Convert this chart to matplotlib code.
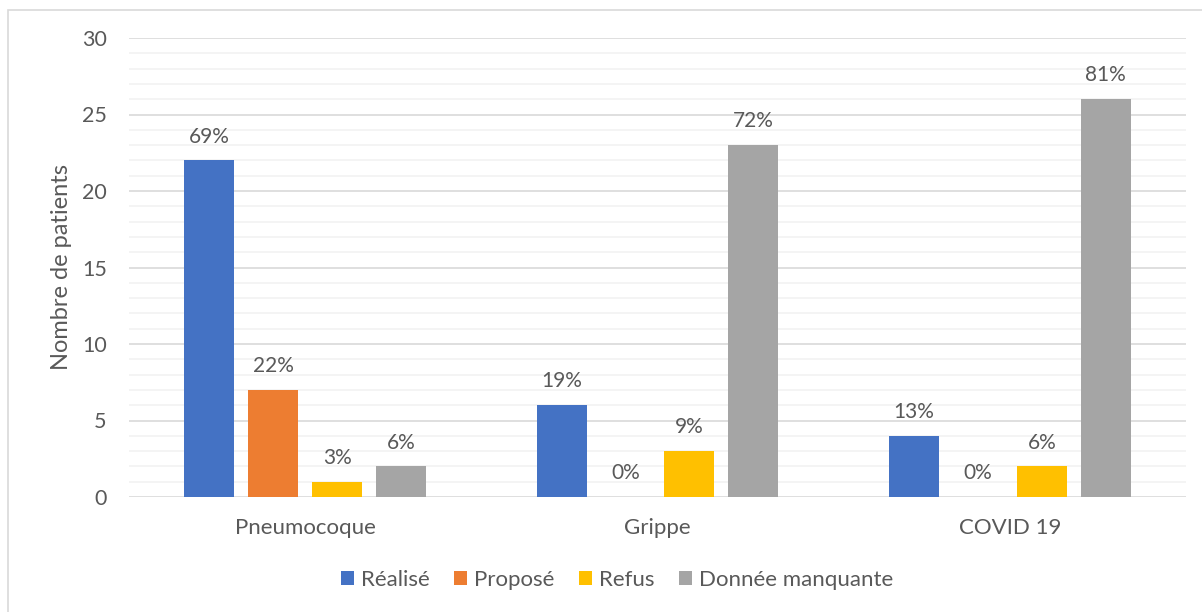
import matplotlib.pyplot as plt
import numpy as np
from matplotlib.patches import Rectangle

categories = ['Pneumocoque', 'Grippe', 'COVID 19']
series = ['Réalisé', 'Proposé', 'Refus', 'Donnée manquante']
values = [
    [22, 6, 4],    # Réalisé
    [7, 0, 0],     # Proposé
    [1, 3, 2],     # Refus
    [2, 23, 26],   # Donnée manquante
]
pct_labels = [
    ['69%', '19%', '13%'],
    ['22%', '0%', '0%'],
    ['3%', '9%', '6%'],
    ['6%', '72%', '81%'],
]
colors = ['#4472C4', '#ED7D31', '#FFC000', '#A5A5A5']

plt.rcParams['font.family'] = ['Lato', 'DejaVu Sans']
txt = '#595959'

fig = plt.figure(figsize=(12.02, 6.12), dpi=100)
ax = fig.add_axes([129 / 1202, 1 - 497 / 612, (1186 - 129) / 1202, (497 - 38) / 612])

# chart border
fig.patches.append(Rectangle((8 / 1202, -0.05), 1.1, 0.05 + (612 - 10) / 612,
                             transform=fig.transFigure, fill=False,
                             edgecolor='#D9D9D9', linewidth=1.2))

x = np.arange(len(categories))
width = 50 / 352.5
step = 64 / 352.5
for i, (name, vals) in enumerate(zip(series, values)):
    pos = x + (i - 1.5) * step
    bars = ax.bar(pos, vals, width, color=colors[i], label=name, zorder=3)
    for b, lab in zip(bars, pct_labels[i]):
        ax.annotate(lab, (b.get_x() + b.get_width() / 2, b.get_height()),
                    xytext=(0, 10), textcoords='offset points',
                    ha='center', va='bottom', fontsize=15, color=txt)

ax.set_xlim(-0.5, 2.5)
ax.set_ylim(0, 30)
ax.set_yticks(np.arange(0, 31, 5))
ax.set_yticks(np.arange(0, 31, 1), minor=True)
ax.grid(axis='y', which='major', color='#D9D9D9', linewidth=1.2, zorder=0)
ax.grid(axis='y', which='minor', color='#F2F2F2', linewidth=1.2, zorder=0)
ax.set_xticks(x)
ax.set_xticklabels(categories)
ax.tick_params(axis='y', which='both', length=0, pad=16, labelsize=15.5, labelcolor=txt)
ax.tick_params(axis='x', length=0, pad=15, labelsize=16, labelcolor=txt)
for s in ax.spines.values():
    s.set_visible(False)
ax.set_ylabel('Nombre de patients', fontsize=17, color=txt, labelpad=7)

fig.legend(loc='center', bbox_to_anchor=(617 / 1202, 1 - 580 / 612), ncol=4,
           frameon=False, fontsize=16, labelcolor=txt, handlelength=0.6,
           handleheight=0.6, handletextpad=0.3, columnspacing=1.1)

fig.savefig('out.png', dpi=100)
